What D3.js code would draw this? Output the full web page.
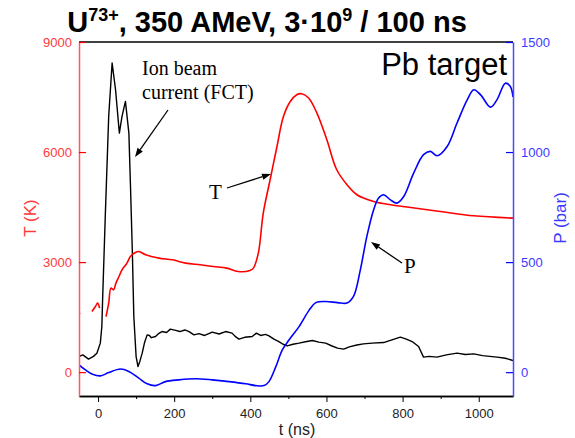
<!DOCTYPE html>
<html>
<head>
<meta charset="utf-8">
<script src="https://cdn.jsdelivr.net/npm/d3@7"></script>
<style>
  html, body { margin: 0; padding: 0; background: #fff; }
  svg { display: block; font-family: "Liberation Sans", Arial, sans-serif; }
</style>
</head>
<body>
<svg id="chart" width="575" height="438"></svg>
<script>
// ---- data ----
const timeTicks = [0, 200, 400, 600, 800, 1000];
const timeMinorTicks = [100, 300, 500, 700, 900];
const tempTicks = [0, 3000, 6000, 9000];
const pressTicks = [0, 500, 1000, 1500];

// Temperature T (K) vs time t (ns); null = gap in the trace
const tempTime = [-50, -47, null, -16, -7, -1, 4, null, 21, 28, 34, 41, 47, 55, 63, 76, 85, 98, 107, 125, 160, 195, 230, 268, 303, 338, 368, 399, 408, 421, 434, 452, 470, 487, 505, 522, 535, 553, 575, 601, 627, 654, 680, 724, 768, 812, 899, 987, 1090];
const tempValues = [1600, 1620, null, 1653, 1789, 1882, 1745, null, 1516, 1882, 2291, 2244, 2427, 2607, 2790, 2972, 3152, 3262, 3289, 3199, 3109, 3062, 2972, 2926, 2880, 2836, 2743, 2771, 2836, 3245, 4336, 5244, 6152, 6970, 7379, 7562, 7589, 7472, 7063, 6335, 5517, 5108, 4835, 4652, 4562, 4500, 4380, 4262, 4200];

// Pressure P (bar) vs time t (ns)
const pressTime = [-50, -33, -16, 6, 28, 59, 81, 107, 129, 151, 177, 212, 256, 300, 344, 388, 414, 436, 449, 467, 484, 502, 528, 555, 572, 598, 629, 654, 671, 689, 706, 724, 737, 750, 768, 785, 803, 829, 855, 873, 891, 917, 943, 970, 987, 1005, 1031, 1048, 1070, 1083, 1090];
const pressValues = [33, 10, -8, -17, -2, 14, 3, -27, -53, -61, -43, -35, -30, -35, -43, -53, -61, -61, -43, 25, 101, 147, 207, 283, 316, 321, 316, 314, 344, 465, 616, 738, 791, 806, 783, 768, 798, 904, 988, 1003, 983, 1025, 1132, 1238, 1283, 1260, 1204, 1238, 1313, 1298, 1250];

// Ion beam current (FCT), arbitrary units drawn on the T scale
const fctTime = [-50, -40, -25, -12, -3, 6, 10, 12, 19, 28, 37, 46, 56, 63, 72, 81, 85, 90, 94, 100, 105, 110, 116, 122, 129, 135, 140, 151, 160, 168, 180, 190, 204, 215, 228, 239, 252, 265, 280, 300, 318, 335, 352, 362, 370, 385, 405, 416, 427, 440, 449, 462, 475, 486, 497, 512, 528, 545, 563, 580, 598, 613, 629, 645, 660, 680, 697, 720, 750, 772, 794, 810, 825, 842, 855, 870, 890, 915, 943, 965, 987, 1010, 1048, 1070, 1090];
const fctValues = [425, 470, 355, 430, 518, 791, 1243, 1972, 4243, 6970, 8426, 7698, 6518, 6970, 7379, 6518, 5154, 3335, 1516, 425, 153, 300, 518, 800, 1017, 1000, 940, 971, 1060, 1107, 1080, 1173, 1140, 1107, 1150, 1107, 1017, 1050, 1000, 1091, 1040, 1107, 1064, 960, 900, 950, 971, 1064, 1000, 1030, 990, 900, 834, 760, 717, 760, 791, 830, 862, 820, 791, 720, 654, 627, 690, 740, 772, 790, 807, 880, 954, 900, 834, 698, 409, 430, 409, 470, 518, 480, 499, 450, 409, 380, 316];

// ---- layout ----
const plot = { left: 79, right: 513, top: 42, bottom: 396 };
const red = "#ff0000", blue = "#0000ff";

const svg = d3.select("#chart");

const x = d3.scaleLinear().domain([-50, 1090]).range([plot.left, plot.right]);
const yT = d3.scaleLinear().domain([-650, 9000]).range([plot.bottom, plot.top]);
const yP = d3.scaleLinear().domain([-650 / 6, 1500]).range([plot.bottom, plot.top]);

svg.append("defs").append("clipPath").attr("id", "clip")
  .append("rect").attr("x", plot.left).attr("y", plot.top)
  .attr("width", plot.right - plot.left).attr("height", plot.bottom - plot.top);

const curves = svg.append("g").attr("clip-path", "url(#clip)");

function zip(ts, vs) { return ts.map((t, i) => ({ t: t, v: vs[i] })); }

const lineT = d3.line().defined(d => d.v !== null && d.t !== null)
  .x(d => x(d.t)).y(d => yT(d.v)).curve(d3.curveCatmullRom.alpha(0.5));
const lineP = d3.line().x(d => x(d.t)).y(d => yP(d.v)).curve(d3.curveCatmullRom.alpha(0.5));
const lineF = d3.line().x(d => x(d.t)).y(d => yT(d.v)).curve(d3.curveLinear);

curves.append("path").datum(zip(fctTime, fctValues))
  .attr("d", lineF).attr("fill", "none").attr("stroke", "#000").attr("stroke-width", 1.4)
  .attr("stroke-linejoin", "round");
curves.append("path").datum(zip(tempTime, tempValues))
  .attr("d", lineT).attr("fill", "none").attr("stroke", red).attr("stroke-width", 1.6);
curves.append("path").datum(zip(pressTime, pressValues))
  .attr("d", lineP).attr("fill", "none").attr("stroke", blue).attr("stroke-width", 1.6);

// ---- axes ----
svg.append("line").attr("x1", plot.left).attr("x2", plot.right)
  .attr("y1", plot.top).attr("y2", plot.top).attr("stroke", "#000").attr("stroke-width", 1.5);

const fmt = d3.format("d");
const gx = svg.append("g").attr("transform", `translate(0,${plot.bottom})`)
  .call(d3.axisBottom(x).tickValues(timeTicks).tickFormat(fmt).tickSize(6).tickSizeOuter(0).tickPadding(7));
const gxMinor = svg.append("g").attr("transform", `translate(0,${plot.bottom})`)
  .call(d3.axisBottom(x).tickValues(timeMinorTicks).tickSize(3).tickSizeOuter(0).tickFormat(""));
[gx, gxMinor].forEach(g => {
  g.select(".domain").attr("stroke", "#000").attr("stroke-width", 1.5);
  g.selectAll(".tick line").attr("stroke", "#000").attr("stroke-width", 1);
  g.selectAll("text").attr("font-size", 13).attr("fill", "#222")
    .attr("font-family", "Liberation Sans, Arial, sans-serif");
});

const gl = svg.append("g").attr("transform", `translate(${plot.left},0)`)
  .call(d3.axisLeft(yT).tickValues(tempTicks).tickFormat(fmt).tickSizeInner(-7).tickSizeOuter(0).tickPadding(7));
gl.select(".domain").attr("stroke", "#ff5a5a").attr("stroke-width", 1.5);
gl.selectAll(".tick line").attr("stroke", red).attr("stroke-width", 1.2);
gl.selectAll("text").attr("font-size", 13).attr("fill", "#ff3a3a")
  .attr("font-family", "Liberation Sans, Arial, sans-serif");

const gr = svg.append("g").attr("transform", `translate(${plot.right},0)`)
  .call(d3.axisRight(yP).tickValues(pressTicks).tickFormat(fmt).tickSizeInner(-7).tickSizeOuter(0).tickPadding(8));
gr.select(".domain").attr("stroke", "#4a4aff").attr("stroke-width", 1.5);
gr.selectAll(".tick line").attr("stroke", blue).attr("stroke-width", 1.2);
gr.selectAll("text").attr("font-size", 13).attr("fill", "#3a3aff")
  .attr("font-family", "Liberation Sans, Arial, sans-serif");

// ---- axis titles ----
svg.append("text").attr("transform", "translate(36,218) rotate(-90)")
  .attr("text-anchor", "middle").attr("font-size", 17).attr("fill", "#ff3a3a").text("T (K)");
svg.append("text").attr("transform", "translate(566,218) rotate(-90)")
  .attr("text-anchor", "middle").attr("font-size", 17).attr("fill", "#3a3aff").text("P (bar)");
svg.append("text").attr("x", 297).attr("y", 435)
  .attr("text-anchor", "middle").attr("font-size", 16).attr("fill", "#222").text("t (ns)");

// ---- title ----
const title = svg.append("text").attr("x", 267).attr("y", 32).attr("text-anchor", "middle")
  .attr("font-size", 29).attr("font-weight", "bold").attr("fill", "#000");
title.append("tspan").text("U");
title.append("tspan").attr("font-size", 18).attr("dy", -11).text("73+");
title.append("tspan").attr("dy", 11).text(", 350 AMeV, 3·10");
title.append("tspan").attr("font-size", 18).attr("dy", -11).text("9");
title.append("tspan").attr("dy", 11).text(" / 100 ns");

svg.append("text").attr("x", 507).attr("y", 75).attr("text-anchor", "end")
  .attr("font-size", 31).attr("fill", "#000").text("Pb target");

// ---- annotations ----
const serif = "Liberation Serif, Times New Roman, serif";
svg.append("text").attr("x", 142).attr("y", 75).attr("font-family", serif)
  .attr("font-size", 20).text("Ion beam");
svg.append("text").attr("x", 142).attr("y", 99).attr("font-family", serif)
  .attr("font-size", 20).text("current (FCT)");
svg.append("text").attr("x", 209).attr("y", 199).attr("font-family", serif)
  .attr("font-size", 21).text("T");
svg.append("text").attr("x", 404).attr("y", 273).attr("font-family", serif)
  .attr("font-size", 21).text("P");

function arrow(x1, y1, x2, y2) {
  const ang = Math.atan2(y2 - y1, x2 - x1);
  const len = 9, half = 3.2;
  const bx = x2 - len * Math.cos(ang), by = y2 - len * Math.sin(ang);
  svg.append("line").attr("x1", x1).attr("y1", y1).attr("x2", bx).attr("y2", by)
    .attr("stroke", "#000").attr("stroke-width", 1.3);
  const px = -Math.sin(ang) * half, py = Math.cos(ang) * half;
  svg.append("path")
    .attr("d", `M${x2},${y2}L${bx + px},${by + py}L${bx - px},${by - py}Z`)
    .attr("fill", "#000");
}
arrow(168, 110, 135, 157);
arrow(227, 188, 271, 174);
arrow(402, 263, 371, 242);
</script>
</body>
</html>
